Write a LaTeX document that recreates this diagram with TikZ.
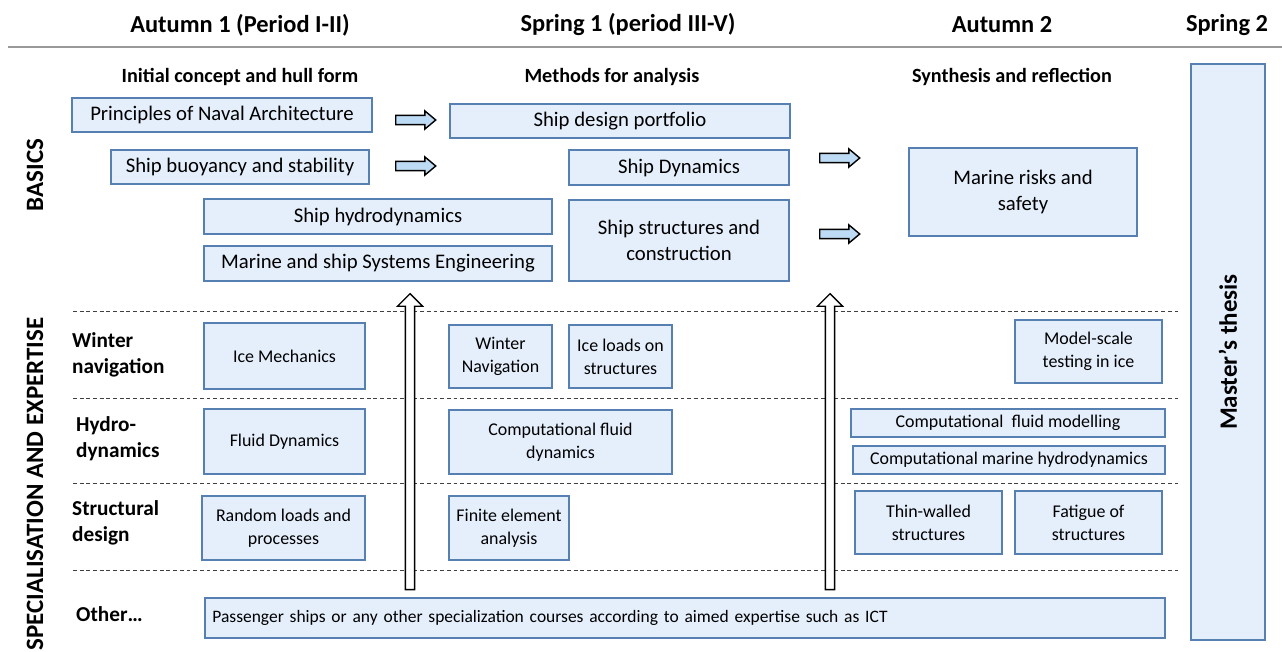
\documentclass[tikz,border=0pt]{standalone}
\usepackage{fontspec}
\setmainfont{Carlito}
\usetikzlibrary{shapes.arrows}

\definecolor{boxfill}{RGB}{229,239,252}
\definecolor{boxline}{RGB}{86,128,178}
\definecolor{arrowfill}{RGB}{189,219,244}

\tikzset{
  course/.style 2 args={draw=boxline, fill=boxfill, line width=0.9pt, rectangle,
    minimum width=#1*0.02cm, minimum height=#2*0.02cm, inner sep=1pt,
    align=center, font=\fontsize{10.2}{13.2}\selectfont},
  basic/.style={font=\fontsize{11.8}{15}\selectfont},
  nextarrow/.style={single arrow, draw=black, fill=arrowfill, line width=0.8pt,
    minimum height=0.8cm, inner sep=2.2pt, single arrow head extend=2.6pt,
    single arrow tip angle=80},
  uparrow/.style={single arrow, draw=black, fill=white, line width=0.8pt,
    minimum height=5.92cm, inner sep=2.2pt, single arrow head extend=4.5pt,
    single arrow tip angle=90, rotate=90},
  period/.style={font=\fontsize{13.9}{15}\selectfont\bfseries},
  theme/.style={font=\fontsize{11.5}{13}\selectfont\bfseries},
  track/.style={font=\fontsize{12.1}{15}\selectfont\bfseries, align=left, anchor=west},
  side/.style={font=\fontsize{14.2}{16}\selectfont\bfseries, rotate=90},
  divider/.style={dashed, dash pattern=on 2.2pt off 1.6pt, black!75, line width=0.45pt}
}

\begin{document}
\begin{tikzpicture}[x=0.02cm,y=-0.02cm]
 \useasboundingbox (0,0) rectangle (1282,652);

 % periods
 \node[period] (aut1) at (240,25) {Autumn 1 (Period I-II)};
 \node[period] (spr1) at (628,25) {Spring 1 (period III-V)};
 \node[period] (aut2) at (1002,25) {Autumn 2};
 \node[period] (spr2) at (1227,25) {Spring 2};
 \draw[black!40, line width=1.7pt] (8,47) -- (1282,47);

 \node[theme] (init) at (240,77) {Initial concept and hull form};
 \node[theme] (meth) at (612,77) {Methods for analysis};
 \node[theme] (synt) at (1012,77) {Synthesis and reflection};

 % row dividers
 \draw[divider] (73,311) -- (1180,311);
 \draw[divider] (73,398) -- (1180,398);
 \draw[divider] (73,483) -- (1180,483);
 \draw[divider] (73,570) -- (1180,570);

 % side labels
 \node[side] (basics) at (35,175) {BASICS};
 \node[side] (spec) at (35,484) {SPECIALISATION AND EXPERTISE};
 \node[track] (winter) at (66,355) {Winter\\navigation};
 \node[track] (hydro) at (70,439) {Hydro-\\dynamics};
 \node[track] (struct) at (66,523) {Structural\\design};
 \node[track] (other) at (70,614) {Other\ldots};

 % basics
 \node[course={300}{34}, basic] (pna) at (222,115) {Principles of Naval Architecture};
 \node[course={258}{34}, basic] (sbs) at (240,167) {Ship buoyancy and stability};
 \node[course={348}{35}, basic] (shd) at (378,216.5) {Ship hydrodynamics};
 \node[course={348}{35}, basic] (mse) at (378,263.5) {Marine and ship Systems Engineering};
 \node[course={340}{34}, basic] (sdp) at (620,121) {Ship design portfolio};
 \node[course={220}{35}, basic] (sdy) at (679,167.5) {Ship Dynamics};
 \node[course={220}{81}, basic] (ssc) at (679,240.5) {Ship structures and\\construction};
 \node[course={228}{88}, basic] (mrs) at (1023,192) {Marine risks and\\safety};
 \node[course={576}{74}, rotate=90, font=\fontsize{14.2}{16}\selectfont\bfseries] (thesis) at (1228,352) {Master’s thesis};

 % winter navigation
 \node[course={161}{66}] (icm) at (284.5,356) {Ice Mechanics};
 \node[course={103}{63}] (wnv) at (500.5,356.5) {Winter\\Navigation};
 \node[course={103}{63}] (ilo) at (620.5,356.5) {Ice loads on\\structures};
 \node[course={147}{63}] (mst) at (1088.5,351.5) {Model-scale\\testing in ice};

 % hydrodynamics
 \node[course={161}{65}] (fld) at (284.5,441.5) {Fluid Dynamics};
 \node[course={223}{64}] (cfd) at (560.5,442) {Computational fluid\\dynamics};
 \node[course={314}{28}] (cfm) at (1008,423) {Computational\ \ fluid modelling};
 \node[course={312}{28}] (cmh) at (1009,460) {Computational marine hydrodynamics};

 % structural design
 \node[course={163}{64}] (rlp) at (283.5,528) {Random loads and\\processes};
 \node[course={120}{64}] (fea) at (509,528) {Finite element\\analysis};
 \node[course={147}{63}] (tws) at (928.5,522.5) {Thin-walled\\structures};
 \node[course={147}{63}] (fos) at (1088.5,522.5) {Fatigue of\\structures};

 % other
 \node[course={960}{40}, anchor=west, text width=18.9cm, align=left, inner xsep=4pt,
   font=\fontsize{9.95}{12}\selectfont] (psg) at (204,618)
  {Passenger ships or any other specialization courses according to aimed expertise such as ICT};

 % progression arrows
 \node[nextarrow] (a1) at (413,120) {};
 \node[nextarrow] (a2) at (413,166) {};
 \node[nextarrow] (a3) at (837,158) {};
 \node[nextarrow] (a4) at (837,234) {};
 \node[uparrow] (u1) at (410,444) {};
 \node[uparrow] (u2) at (830,444) {};
\end{tikzpicture}
\end{document}
